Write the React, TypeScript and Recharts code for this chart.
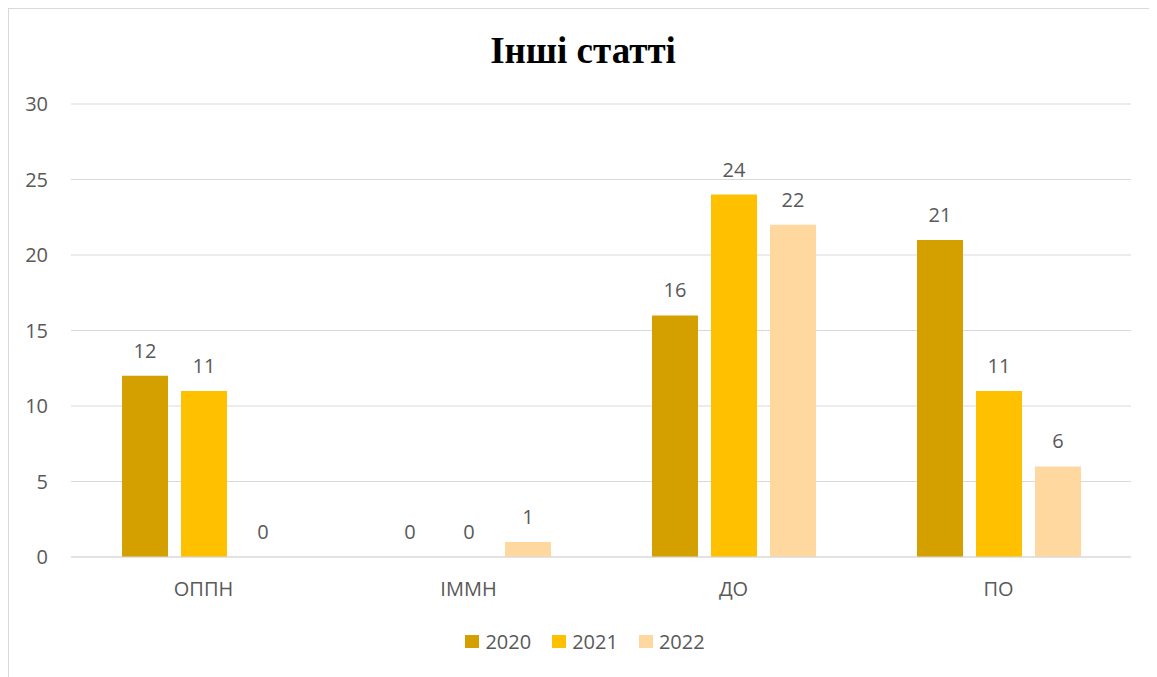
import React from 'react';
import { BarChart, Bar, XAxis, YAxis, CartesianGrid, Legend, LabelList } from 'recharts';

const categories = ['ОППН', 'ІММН', 'ДО', 'ПО'];
const values2020 = [12, 0, 16, 21];
const values2021 = [11, 0, 24, 11];
const values2022 = [0, 1, 22, 6];
const yTicks = [0, 5, 10, 15, 20, 25, 30];

const series = [
  { key: 'y2020', name: '2020', color: '#D4A000' },
  { key: 'y2021', name: '2021', color: '#FFC000' },
  { key: 'y2022', name: '2022', color: '#FFD8A0' },
];

const data = categories.map((c, i) => ({
  cat: c,
  y2020: values2020[i],
  y2021: values2021[i],
  y2022: values2022[i],
}));

const FONT = '"Open Sans", "Liberation Sans", sans-serif';
const TEXT = '#595959';

function LegendContent() {
  return (
    <div style={{ display: 'flex', justifyContent: 'center', height: 24, alignItems: 'center', fontFamily: FONT, fontSize: 20, color: TEXT, paddingLeft: 30 }}>
      {series.map((s, i) => (
        <div key={s.key} style={{ display: 'flex', alignItems: 'center', marginLeft: i === 0 ? 0 : 21 }}>
          <span style={{ width: 14, height: 13, background: s.color, display: 'inline-block', marginRight: 6 }} />
          <span>{s.name}</span>
        </div>
      ))}
    </div>
  );
}

export default function App() {
  return (
    <div style={{ position: 'relative', width: 1160, height: 680, border: '1px solid #d9d9d9', background: '#fff' }}>
      <div
        style={{
          position: 'absolute',
          top: 23,
          left: 0,
          width: 1148,
          textAlign: 'center',
          fontFamily: '"Liberation Serif", "Times New Roman", serif',
          fontWeight: 'bold',
          fontSize: 37,
          lineHeight: 1,
          color: '#000',
        }}
      >
        Інші статті
      </div>
      <BarChart
        width={1148}
        height={668}
        data={data}
        margin={{ top: 95, right: 26, left: 0, bottom: 24 }}
        barSize={46}
        barGap={13}
      >
        <CartesianGrid vertical={false} stroke="#d9d9d9" />
        <XAxis
          dataKey="cat"
          height={72}
          axisLine={{ stroke: '#d9d9d9' }}
          tickLine={false}
          tickSize={0}
          tickMargin={25}
          tick={{ fill: TEXT, fontSize: 20, fontFamily: FONT }}
        />
        <YAxis
          width={62}
          domain={[0, 30]}
          ticks={yTicks}
          axisLine={false}
          tickLine={false}
          tickSize={0}
          tickMargin={23}
          tick={{ fill: TEXT, fontSize: 20, fontFamily: FONT }}
        />
        <Legend verticalAlign="bottom" content={<LegendContent />} />
        {series.map((s) => (
          <Bar key={s.key} dataKey={s.key} name={s.name} fill={s.color} minPointSize={0.05} isAnimationActive={false}>
            <LabelList dataKey={s.key} position="top" offset={18} fill={TEXT} fontSize={20} fontFamily={FONT} />
          </Bar>
        ))}
      </BarChart>
    </div>
  );
}
